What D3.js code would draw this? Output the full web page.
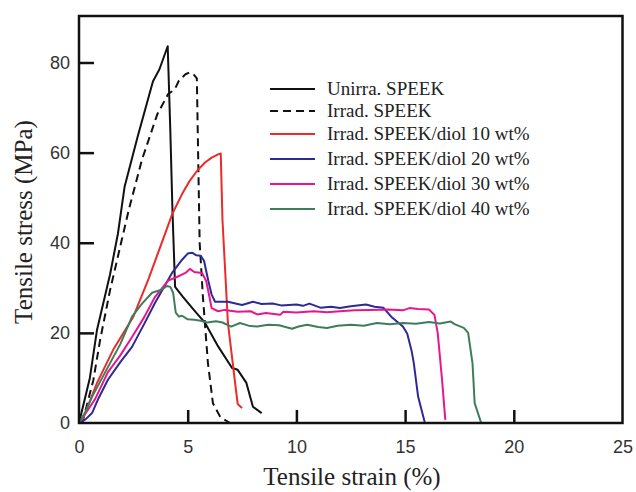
<!DOCTYPE html>
<html><head><meta charset="utf-8">
<script src="https://cdn.jsdelivr.net/npm/d3@7"></script>
<style>body{margin:0;background:#fff;}svg{display:block;}</style>
</head><body>
<svg id="c" width="636" height="492"></svg>
<script>
const xTicks = [0, 5, 10, 15, 20, 25];
const yTicks = [0, 20, 40, 60, 80];
const seriesNames = ["Unirra. SPEEK", "Irrad. SPEEK", "Irrad. SPEEK/diol 10 wt%", "Irrad. SPEEK/diol 20 wt%", "Irrad. SPEEK/diol 30 wt%", "Irrad. SPEEK/diol 40 wt%"];
const seriesColors = ["#111111", "#111111", "#ec2a2a", "#2e2a95", "#e8168e", "#3f7d5a"];
const seriesDash = [null, "8,5", null, null, null, null];

const unirra = [[0,0],[0.5,10],[0.83,20.7],[1.43,33],[1.79,42],[2.1,52.5],[2.7,63.6],[3.4,75.8],[3.7,78.5],[4.08,83.6],[4.2,65],[4.3,47],[4.42,30.2],[4.78,28],[5.3,25],[5.8,22.2],[6.4,17],[7.04,12.2],[7.3,11.8],[7.7,8.9],[8.0,3.6],[8.4,2.2]];
const irrad = [[0.15,0],[0.66,9.5],[0.97,18.4],[1.43,29.5],[1.97,40.7],[2.3,47.5],[2.9,58.5],[3.6,68.5],[4.1,73],[4.4,74],[4.6,76],[4.9,77.4],[5.1,77.8],[5.3,77.2],[5.42,76.5],[5.55,40],[5.7,28],[5.93,13.3],[6.16,4.4],[6.5,1.3],[6.95,0]];
const diol10 = [[0.1,0],[0.83,8.9],[1.6,16.5],[2.5,23.6],[3.2,32],[3.86,40.7],[4.3,46.5],[4.74,50.8],[5.1,53.8],[5.47,56.2],[5.8,57.8],[6.1,58.9],[6.4,59.6],[6.52,59.8],[6.6,45],[6.85,22.2],[7.18,8.9],[7.3,4.2],[7.5,3.3]];
const diol20 = [[0,0],[0.3,0.8],[0.6,2.2],[0.9,5.5],[1.33,9.6],[1.9,13.5],[2.44,16.9],[3.0,22],[3.5,26.7],[4.28,33.3],[4.7,36],[5.0,37.6],[5.2,37.8],[5.4,37.2],[5.6,37.1],[5.75,36],[5.95,31.5],[6.1,28.5],[6.26,26.9],[6.85,26.9],[7.2,26.5],[7.5,26.2],[8.0,26.9],[8.4,26.4],[8.9,26.5],[9.3,26.1],[10.0,26.3],[10.3,26.0],[10.6,26.5],[11.1,25.6],[11.6,25.8],[12.0,25.5],[12.5,25.9],[13.2,26.3],[13.6,25.8],[14.0,25.6],[14.4,23.4],[14.9,21.4],[15.1,19.8],[15.3,16],[15.4,13.3],[15.6,5.8],[15.9,0.2]];
const diol30 = [[0,0],[0.35,2.5],[0.74,5.3],[1.33,11.3],[1.9,15],[2.44,19.1],[3.0,23.5],[3.5,28],[4.1,31.6],[4.5,32.4],[4.9,33.3],[5.1,34.2],[5.3,33.5],[5.66,33.3],[5.85,31.5],[6.0,28],[6.1,25.5],[6.4,24.8],[6.7,25.1],[7.3,24.7],[7.9,24.8],[8.2,24.1],[8.6,24.4],[9.25,24.0],[9.4,24.7],[10.0,24.5],[10.8,24.8],[11.4,24.6],[12.0,24.8],[12.7,25.0],[13.4,25.1],[14.2,25.2],[14.9,25.0],[15.2,25.5],[15.6,25.3],[16.1,25.2],[16.35,24],[16.5,20],[16.7,9.6],[16.85,0.7]];
const diol40 = [[0,0],[0.3,2.5],[0.6,5.8],[1.33,12.4],[1.9,17.5],[2.44,23.6],[2.9,26.5],[3.36,28.9],[3.8,29.6],[4.05,30.4],[4.2,30.2],[4.33,28.9],[4.45,24.5],[4.6,23.6],[4.74,23.8],[5.0,23.0],[5.3,22.9],[5.6,22.7],[5.9,22.3],[6.3,22.6],[6.6,22.3],[7.0,21.4],[7.4,22.2],[7.8,21.6],[8.2,21.4],[8.7,21.8],[9.2,21.7],[9.8,20.9],[10.1,21.4],[10.5,21.8],[11.0,21.3],[11.4,21.1],[11.9,21.6],[12.5,21.8],[13.1,21.6],[13.7,22.2],[14.3,21.9],[14.9,22.2],[15.5,22.0],[16.1,22.4],[16.6,22.1],[17.1,22.5],[17.3,21.9],[17.7,21.1],[17.9,20],[18.1,13.3],[18.2,4.4],[18.5,0]];
const seriesData = [unirra, irrad, diol10, diol20, diol30, diol40];

const svg = d3.select("#c");
const m = {l: 79, r: 622.5, t: 16, b: 423};
const x = d3.scaleLinear().domain([0, 25]).range([m.l, m.r]);
const y = d3.scaleLinear().domain([0, 80]).range([m.b, 62.5]);

const lineLin = d3.line().x(d => x(d[0])).y(d => y(d[1]));
seriesData.forEach((s, i) => {
  svg.append("path").attr("d", lineLin(s)).attr("fill", "none")
    .attr("stroke", seriesColors[i]).attr("stroke-width", 2)
    .attr("stroke-linejoin", "round").attr("stroke-linecap", "butt")
    .attr("stroke-dasharray", seriesDash[i]);
});

// frame
svg.append("rect").attr("x", m.l).attr("y", m.t).attr("width", m.r - m.l).attr("height", m.b - m.t)
  .attr("fill", "none").attr("stroke", "#111").attr("stroke-width", 2.5);

// axes with inward ticks
const xAxis = d3.axisBottom(x).tickValues(xTicks).tickSize(-13).tickPadding(17).tickSizeOuter(0);
const gx = svg.append("g").attr("transform", `translate(0,${m.b})`).call(xAxis);
gx.select(".domain").remove();
gx.selectAll(".tick line").attr("stroke", "#111").attr("stroke-width", 2.5)
  .attr("display", d => (d === 0 || d === 25) ? "none" : null);
gx.selectAll("text").attr("font-family", "Liberation Sans, Arial, sans-serif").attr("font-size", 18).attr("fill", "#333");

const yAxis = d3.axisLeft(y).tickValues(yTicks).tickSize(-15).tickPadding(9).tickSizeOuter(0);
const gy = svg.append("g").attr("transform", `translate(${m.l},0)`).call(yAxis);
gy.select(".domain").remove();
gy.selectAll(".tick line").attr("stroke", "#111").attr("stroke-width", 2.5)
  .attr("display", d => d === 0 ? "none" : null);
gy.selectAll("text").attr("font-family", "Liberation Sans, Arial, sans-serif").attr("font-size", 18).attr("fill", "#333");

// axis titles
svg.append("text").attr("x", 352).attr("y", 485).attr("text-anchor", "middle")
  .attr("font-family", "Liberation Serif, Times New Roman, serif").attr("font-size", 25).attr("fill", "#222")
  .text("Tensile strain (%)");
svg.append("text").attr("transform", "translate(32,222) rotate(-90)").attr("text-anchor", "middle")
  .attr("font-family", "Liberation Serif, Times New Roman, serif").attr("font-size", 25).attr("fill", "#222")
  .text("Tensile stress (MPa)");

// legend
const legY = [89, 111, 134, 159, 184, 209];
seriesNames.forEach((n, i) => {
  svg.append("line").attr("x1", 270).attr("x2", 315).attr("y1", legY[i]).attr("y2", legY[i])
    .attr("stroke", seriesColors[i]).attr("stroke-width", 2.2).attr("stroke-dasharray", seriesDash[i]);
  svg.append("text").attr("x", 327).attr("y", legY[i] + 6)
    .attr("font-family", "Liberation Serif, Times New Roman, serif").attr("font-size", 19).attr("fill", "#222")
    .text(n);
});
</script>
</body></html>
